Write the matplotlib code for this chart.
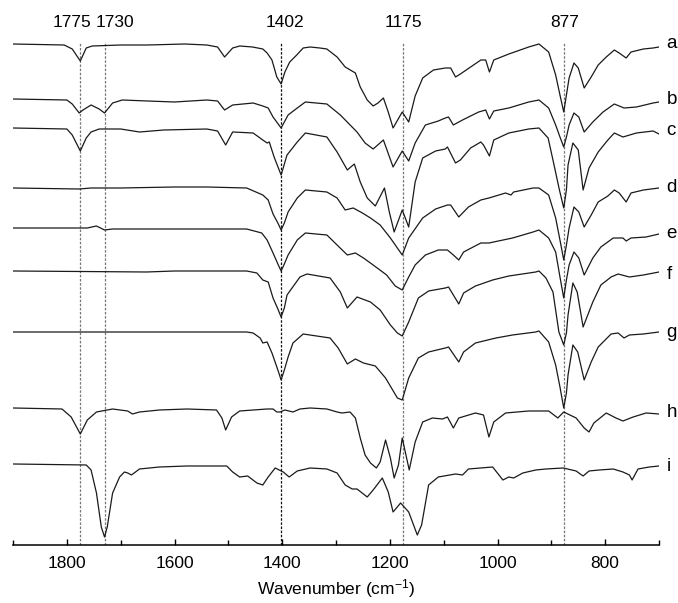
import matplotlib
matplotlib.use("Agg")
import matplotlib.pyplot as plt
from matplotlib.ticker import MultipleLocator

# stacked IR spectra, (wavenumber cm-1, offset transmittance a.u.)
spec_a = [(1900, 501), (1805, 500), (1790, 496), (1775, 484), (1764, 497), (1753, 499),
          (1700, 500), (1650, 500), (1581, 501), (1540, 500), (1520, 498), (1507, 488),
          (1492, 497), (1479, 499), (1455, 498), (1436, 496), (1428, 492), (1419, 485),
          (1410, 468), (1402, 461), (1395, 473), (1386, 483), (1373, 490), (1361, 497),
          (1348, 498), (1330, 497), (1317, 496), (1298, 488), (1283, 478), (1264, 472),
          (1255, 458), (1242, 445), (1231, 439), (1222, 442), (1212, 447), (1203, 433),
          (1194, 417), (1177, 433), (1165, 423), (1153, 449), (1139, 467), (1119, 475),
          (1097, 477), (1087, 477), (1078, 468), (1069, 471), (1050, 478), (1031, 485),
          (1022, 485), (1015, 473), (1007, 485), (979, 491), (942, 498), (923, 501),
          (905, 493), (892, 470), (884, 450), (877, 433), (872, 450), (867, 467),
          (858, 482), (850, 477), (839, 457), (826, 468), (813, 480), (798, 488),
          (783, 495), (774, 492), (761, 487), (752, 493), (729, 496), (711, 497), (700, 498)]

spec_b = [(1900, 446), (1800, 445), (1790, 441), (1777, 432), (1770, 435), (1755, 440),
          (1740, 436), (1730, 432), (1715, 442), (1697, 445), (1650, 444), (1600, 443),
          (1540, 445), (1520, 444), (1507, 435), (1492, 440), (1454, 442), (1436, 439),
          (1426, 437), (1417, 428), (1402, 417), (1389, 430), (1372, 437), (1357, 443),
          (1317, 441), (1292, 430), (1261, 413), (1246, 402), (1231, 396), (1212, 405),
          (1194, 378), (1177, 394), (1165, 384), (1153, 402), (1134, 420), (1110, 424),
          (1097, 427), (1091, 428), (1082, 420), (1065, 425), (1035, 433), (1022, 435),
          (1015, 426), (1007, 434), (979, 437), (942, 443), (923, 445), (905, 437),
          (892, 420), (884, 408), (877, 398), (872, 408), (867, 420), (858, 432),
          (849, 428), (839, 413), (823, 423), (804, 433), (783, 441), (765, 437),
          (742, 438), (711, 442), (700, 443)]

spec_c = [(1900, 417), (1800, 416), (1790, 410), (1775, 394), (1764, 407), (1755, 413),
          (1740, 416), (1700, 416), (1665, 413), (1620, 415), (1540, 416), (1520, 414),
          (1505, 400), (1492, 413), (1454, 412), (1436, 405), (1428, 402), (1424, 403),
          (1415, 388), (1402, 370), (1391, 390), (1372, 403), (1357, 412), (1317, 408),
          (1298, 393), (1279, 375), (1266, 381), (1255, 363), (1242, 347), (1227, 339),
          (1210, 357), (1201, 333), (1192, 313), (1177, 335), (1165, 318), (1153, 363),
          (1139, 387), (1115, 394), (1097, 396), (1093, 398), (1078, 382), (1069, 385),
          (1050, 397), (1031, 403), (1026, 400), (1015, 389), (1007, 405), (979, 412),
          (942, 416), (923, 417), (906, 407), (895, 380), (885, 355), (877, 337),
          (872, 355), (869, 380), (860, 402), (850, 395), (841, 355), (830, 377),
          (813, 393), (795, 405), (783, 412), (767, 408), (742, 412), (711, 414), (700, 411)]

spec_d = [(1900, 357), (1777, 356), (1755, 357), (1700, 357), (1600, 358), (1540, 358),
          (1466, 357), (1436, 350), (1426, 345), (1417, 331), (1408, 322), (1402, 315),
          (1396, 322), (1389, 333), (1372, 347), (1357, 355), (1317, 353), (1298, 347),
          (1283, 335), (1268, 337), (1251, 332), (1236, 327), (1218, 320), (1199, 307),
          (1177, 290), (1165, 307), (1139, 327), (1115, 336), (1093, 340), (1087, 340),
          (1072, 328), (1054, 338), (1031, 345), (1016, 347), (985, 352), (975, 350),
          (970, 353), (934, 357), (923, 357), (905, 350), (892, 327), (884, 305),
          (877, 285), (872, 300), (867, 317), (858, 338), (849, 333), (839, 318),
          (826, 330), (813, 343), (795, 349), (783, 355), (774, 352), (761, 343),
          (752, 352), (729, 355), (700, 357)]

spec_e = [(1900, 317), (1762, 317), (1745, 319), (1730, 315), (1715, 316), (1600, 316),
          (1466, 316), (1438, 312), (1428, 305), (1417, 292), (1408, 281), (1402, 274),
          (1396, 281), (1389, 290), (1372, 305), (1357, 312), (1317, 310), (1298, 300),
          (1279, 290), (1264, 292), (1249, 287), (1231, 280), (1206, 270), (1190, 259),
          (1177, 255), (1165, 268), (1153, 280), (1134, 290), (1110, 295), (1093, 295),
          (1082, 290), (1072, 285), (1063, 293), (1031, 302), (1016, 302), (972, 307),
          (934, 313), (923, 315), (905, 307), (892, 293), (884, 268), (877, 247),
          (872, 265), (867, 280), (858, 293), (849, 287), (839, 270), (823, 287),
          (808, 298), (785, 307), (767, 307), (761, 304), (752, 307), (724, 308), (700, 311)]

spec_f = [(1900, 274), (1652, 273), (1600, 274), (1466, 274), (1447, 272), (1436, 265),
          (1426, 263), (1417, 247), (1408, 236), (1402, 228), (1396, 237), (1391, 250),
          (1367, 268), (1354, 271), (1311, 267), (1292, 253), (1279, 237), (1261, 248),
          (1236, 243), (1218, 235), (1199, 220), (1186, 212), (1177, 209), (1165, 223),
          (1147, 247), (1128, 254), (1097, 257), (1091, 258), (1072, 241), (1063, 252),
          (1041, 259), (1009, 265), (979, 269), (929, 273), (923, 274), (910, 267),
          (897, 253), (886, 213), (877, 200), (872, 212), (869, 230), (860, 262),
          (852, 253), (841, 218), (823, 243), (808, 260), (789, 268), (776, 271),
          (755, 268), (729, 270), (700, 273)]

spec_g = [(1900, 213), (1466, 213), (1454, 212), (1441, 207), (1436, 202), (1428, 203),
          (1419, 192), (1408, 175), (1402, 165), (1396, 175), (1389, 188), (1380, 202),
          (1361, 211), (1311, 207), (1296, 197), (1279, 181), (1264, 186), (1249, 182),
          (1227, 179), (1208, 167), (1186, 147), (1177, 145), (1165, 167), (1147, 187),
          (1128, 193), (1097, 197), (1091, 198), (1072, 183), (1063, 193), (1041, 202),
          (1003, 207), (972, 210), (929, 213), (923, 214), (905, 203), (892, 180),
          (884, 158), (877, 137), (872, 152), (869, 170), (860, 200), (851, 193),
          (839, 165), (826, 183), (813, 198), (789, 211), (776, 212), (765, 207),
          (755, 210), (729, 211), (700, 213)]

spec_h = [(1900, 137), (1809, 136), (1792, 128), (1775, 111), (1762, 125), (1745, 133),
          (1715, 136), (1687, 134), (1678, 131), (1665, 133), (1628, 135), (1577, 136),
          (1522, 135), (1512, 127), (1505, 115), (1494, 128), (1479, 134), (1428, 136),
          (1417, 136), (1410, 133), (1404, 133), (1395, 135), (1380, 133), (1367, 136),
          (1348, 137), (1317, 136), (1298, 133), (1289, 132), (1274, 133), (1264, 127),
          (1255, 107), (1246, 90), (1236, 82), (1225, 77), (1218, 83), (1208, 105),
          (1199, 87), (1192, 67), (1184, 80), (1177, 107), (1164, 75), (1153, 103),
          (1139, 123), (1121, 127), (1102, 126), (1093, 128), (1082, 117), (1072, 127),
          (1041, 132), (1026, 130), (1016, 108), (1007, 123), (985, 132), (942, 134),
          (905, 134), (888, 127), (877, 133), (854, 127), (839, 117), (830, 113),
          (821, 122), (798, 132), (780, 127), (767, 124), (748, 128), (724, 132), (700, 131)]

spec_i = [(1900, 81), (1764, 80), (1755, 75), (1745, 52), (1736, 18), (1730, 8),
          (1725, 18), (1715, 52), (1702, 68), (1693, 73), (1687, 72), (1680, 70),
          (1665, 76), (1628, 78), (1577, 79), (1503, 79), (1492, 73), (1479, 68),
          (1464, 69), (1447, 62), (1436, 60), (1426, 68), (1413, 77), (1398, 73),
          (1387, 68), (1372, 74), (1348, 77), (1317, 76), (1298, 72), (1283, 60),
          (1270, 56), (1261, 56), (1242, 48), (1231, 55), (1214, 67), (1203, 53),
          (1194, 33), (1180, 42), (1165, 33), (1149, 10), (1141, 20), (1128, 60),
          (1110, 68), (1078, 71), (1065, 70), (1054, 76), (1009, 78), (990, 65),
          (979, 68), (970, 67), (953, 72), (929, 75), (910, 76), (878, 77),
          (854, 74), (841, 69), (830, 74), (811, 75), (785, 76), (767, 73),
          (755, 70), (750, 65), (739, 76), (718, 78), (700, 79)]

spectra = [spec_a, spec_b, spec_c, spec_d, spec_e, spec_f, spec_g, spec_h, spec_i]
names = ["a", "b", "c", "d", "e", "f", "g", "h", "i"]
name_y = [501, 445, 414, 357, 311, 270, 212, 132, 78]

marker_wn = [1775, 1730, 1402, 1175, 877]
marker_txt = ["1775", "1730", "1402", "1175", "877"]
marker_txt_x = [1790, 1711, 1394, 1175, 876]

plt.rcParams["font.family"] = ["Liberation Sans", "DejaVu Sans"]
plt.rcParams["mathtext.fontset"] = "custom"
plt.rcParams["mathtext.rm"] = "Liberation Sans"
plt.rcParams["mathtext.it"] = "Liberation Sans:italic"

fig = plt.figure(figsize=(6.78, 6.03), dpi=100)
ax = fig.add_axes([0.0192, 0.0962, 0.9528, 0.9038])

for wn, txt, tx in zip(marker_wn, marker_txt, marker_txt_x):
    col = "#111111" if wn == 1402 else "#777777"
    ax.plot([wn, wn], [0, 503], color=col, lw=0.9, ls=(0, (2, 1.3)), zorder=1)
    ax.text(tx, 522, txt, ha="center", va="center", fontsize=12.5)

for spec, nm, ny in zip(spectra, names, name_y):
    x, y = zip(*spec)
    ax.plot(x, y, color="#1a1a1a", lw=0.9, zorder=2)
    ax.text(686, ny, nm, ha="left", va="center", fontsize=13.5, clip_on=False)

ax.set_xlim(1900, 700)
ax.set_ylim(0, 545)
ax.xaxis.set_major_locator(MultipleLocator(200))
ax.xaxis.set_minor_locator(MultipleLocator(100))
ax.tick_params(axis="x", which="major", direction="in", length=4.5, width=1.0,
               labelsize=12.5, pad=8)
ax.tick_params(axis="x", which="minor", direction="in", length=3.5, width=1.0)
ax.set_yticks([])
for s in ["left", "right", "top"]:
    ax.spines[s].set_visible(False)
ax.spines["bottom"].set_linewidth(1.1)
ax.patch.set_visible(False)
ax.set_xlabel("Wavenumber (cm$^{-1}$)", fontsize=12.5, labelpad=4)

fig.savefig("out.png", dpi=100)
